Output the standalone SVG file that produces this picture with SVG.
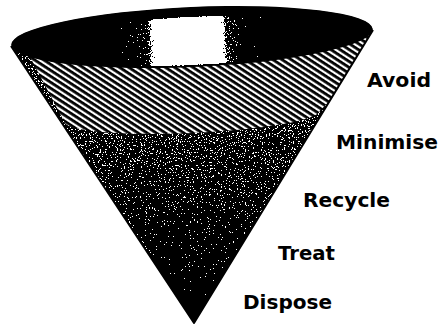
<svg xmlns="http://www.w3.org/2000/svg" width="440" height="324" viewBox="0 0 440 324">
  <style>
    .label { font-family: "DejaVu Sans", "Liberation Sans", sans-serif; font-weight: bold; font-size: 19px; fill: #000; }
    .edge { fill: none; stroke: #000; stroke-width: 2; stroke-linejoin: round; }
  </style>
  <defs>
    <!-- noise dither: grey levels become scattered black/white specks -->
    <filter id="dither" x="0" y="0" width="440" height="324" filterUnits="userSpaceOnUse" color-interpolation-filters="sRGB">
      <feTurbulence type="fractalNoise" baseFrequency="0.75" numOctaves="2" seed="7" result="noise"/>
      <feColorMatrix in="noise" type="matrix" values="1 0 0 0 0  1 0 0 0 0  1 0 0 0 0  0 0 0 0 1" result="grey"/>
      <feComposite in="SourceGraphic" in2="grey" operator="arithmetic" k1="0" k2="1" k3="1" k4="-0.5" result="sum"/>
      <feComponentTransfer in="sum" result="bw">
        <feFuncR type="discrete" tableValues="0 1"/>
        <feFuncG type="discrete" tableValues="0 1"/>
        <feFuncB type="discrete" tableValues="0 1"/>
      </feComponentTransfer>
      <feComposite in="bw" in2="SourceAlpha" operator="in"/>
    </filter>
    <!-- diagonal stripes of the upper band -->
    <pattern id="hatch" width="12" height="5" patternUnits="userSpaceOnUse" patternTransform="rotate(33)">
      <rect width="12" height="5" fill="#fff"/>
      <rect width="12" height="2.8" fill="#000"/>
    </pattern>
    <linearGradient id="bodyShade" x1="0" y1="115" x2="0" y2="323" gradientUnits="userSpaceOnUse">
      <stop offset="0" stop-color="#626262"/>
      <stop offset="0.4" stop-color="#545454"/>
      <stop offset="1" stop-color="#363636"/>
    </linearGradient>
    <linearGradient id="mouthShade" x1="0" y1="0" x2="440" y2="0" gradientUnits="userSpaceOnUse">
      <stop offset="0" stop-color="#000"/>
      <stop offset="0.18" stop-color="#1a1a1a"/>
      <stop offset="0.27" stop-color="#3a3a3a"/>
      <stop offset="0.335" stop-color="#555"/>
      <stop offset="0.35" stop-color="#bbb"/>
      <stop offset="0.355" stop-color="#fff"/>
      <stop offset="0.5" stop-color="#fff"/>
      <stop offset="0.515" stop-color="#666"/>
      <stop offset="0.56" stop-color="#3a3a3a"/>
      <stop offset="0.7" stop-color="#1a1a1a"/>
      <stop offset="1" stop-color="#000"/>
    </linearGradient>
    <clipPath id="coneClip">
      <polygon points="11,46 194,323 373,30"/>
    </clipPath>
    <clipPath id="bandClip">
      <path d="M64.1,121.6 A128,17 -2.5 0 0 319.9,110.4 L440,0 L0,0 Z"/>
    </clipPath>
  </defs>

  <rect width="440" height="324" fill="#fff"/>

  <g id="funnel">
    <!-- speckled body down to the tip -->
    <g id="body" filter="url(#dither)">
      <polygon points="11,46 194,323 373,30" fill="url(#bodyShade)"/>
    </g>
    <!-- hatched band just below the rim -->
    <g id="band" clip-path="url(#coneClip)">
      <rect x="0" y="0" width="440" height="140" fill="url(#hatch)" clip-path="url(#bandClip)"/>
    </g>
    <!-- open mouth of the funnel -->
    <g id="mouth" filter="url(#dither)">
      <ellipse cx="192" cy="37" rx="181" ry="30" transform="rotate(-2.5 192 37)" fill="#000"/>
      <ellipse cx="192" cy="41" rx="170" ry="24" transform="rotate(-2.5 192 41)" fill="url(#mouthShade)"/>
    </g>
    <polyline class="edge" points="11,46 194,323 373,30"/>
  </g>

  <g id="labels">
    <text class="label" x="367" y="87" textLength="64" lengthAdjust="spacingAndGlyphs">Avoid</text>
    <text class="label" x="336" y="149" textLength="102" lengthAdjust="spacingAndGlyphs">Minimise</text>
    <text class="label" x="303" y="207" textLength="87" lengthAdjust="spacingAndGlyphs">Recycle</text>
    <text class="label" x="278" y="260" textLength="57" lengthAdjust="spacingAndGlyphs">Treat</text>
    <text class="label" x="243" y="309" textLength="89" lengthAdjust="spacingAndGlyphs">Dispose</text>
  </g>
</svg>
